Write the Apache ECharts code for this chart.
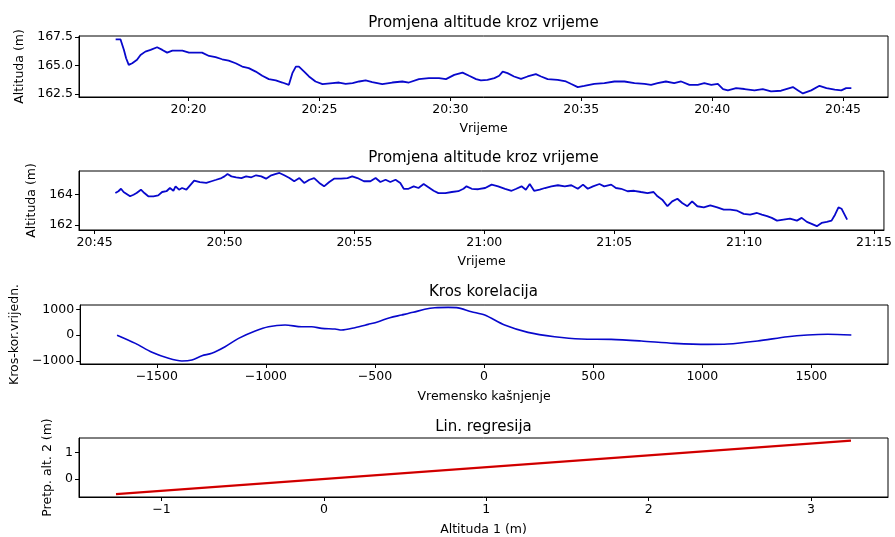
<!DOCTYPE html>
<html>
<head>
<meta charset="utf-8">
<script src="https://cdn.jsdelivr.net/npm/echarts@6/dist/echarts.min.js"></script>
<style>
html,body{margin:0;padding:0;background:#fff;}
#chart{width:895px;height:537px;}
</style>
</head>
<body>
<div id="chart"></div>
<script>
// ---------- DATA ----------
const titles = ['Promjena altitude kroz vrijeme', 'Promjena altitude kroz vrijeme', 'Kros korelacija', 'Lin. regresija'];

const times1 = ['20:17:13','20:17:24','20:17:32','20:17:37','20:17:43','20:17:51','20:18:02','20:18:10','20:18:21','20:18:33',
'20:18:48','20:19:00','20:19:11','20:19:23','20:19:46','20:20:01','20:20:16','20:20:31','20:20:47','20:21:02',
'20:21:17','20:21:32','20:21:48','20:22:03','20:22:18','20:22:34','20:22:49','20:23:04','20:23:20','20:23:35',
'20:23:50','20:23:58','20:24:06','20:24:13','20:24:25','20:24:36','20:24:51','20:25:07','20:25:30','20:25:45',
'20:26:00','20:26:16','20:26:31','20:26:46','20:27:01','20:27:24','20:27:47','20:28:10','20:28:25','20:28:48',
'20:29:11','20:29:34','20:29:50','20:30:09','20:30:28','20:30:43','20:30:59','20:31:10','20:31:25','20:31:41',
'20:31:52','20:32:00','20:32:11','20:32:26','20:32:42','20:32:57','20:33:16','20:33:28','20:33:43','20:34:06',
'20:34:25','20:34:36','20:34:52','20:35:07','20:35:30','20:35:53','20:36:16','20:36:39','20:37:02','20:37:25',
'20:37:40','20:37:55','20:38:14','20:38:33','20:38:49','20:39:08','20:39:27','20:39:42','20:39:58','20:40:13',
'20:40:25','20:40:36','20:40:55','20:41:14','20:41:37','20:41:56','20:42:15','20:42:38','20:43:05','20:43:17',
'20:43:28','20:43:47','20:44:06','20:44:22','20:44:41','20:44:56','20:45:07','20:45:19'];
const alt1 = [167.3,167.3,166.37,165.64,165.06,165.2,165.5,165.93,166.22,166.37,
166.6,166.37,166.13,166.3,166.3,166.13,166.13,166.13,165.84,165.73,
165.55,165.43,165.2,164.91,164.77,164.47,164.1,163.81,163.69,163.51,
163.31,164.33,164.91,164.91,164.47,164.04,163.6,163.37,163.46,163.51,
163.4,163.46,163.6,163.69,163.55,163.37,163.51,163.6,163.51,163.81,
163.9,163.9,163.81,164.18,164.38,164.1,163.81,163.69,163.75,163.9,
164.1,164.47,164.33,164.04,163.83,164.04,164.24,164.04,163.81,163.75,
163.6,163.4,163.11,163.22,163.4,163.46,163.6,163.6,163.46,163.4,
163.31,163.46,163.6,163.46,163.6,163.31,163.31,163.46,163.31,163.4,
162.94,162.82,163.02,162.94,162.82,162.94,162.73,162.79,163.11,162.82,
162.55,162.82,163.22,163.02,162.88,162.82,163.02,163.02];

const times2 = ['20:45:48','20:45:55','20:46:01','20:46:07','20:46:14','20:46:22','20:46:30','20:46:37','20:46:47','20:46:55',
'20:47:04','20:47:16','20:47:27','20:47:36','20:47:46','20:47:54','20:48:02','20:48:07','20:48:15','20:48:22',
'20:48:32','20:48:42','20:48:50','20:49:03','20:49:18','20:49:30','20:49:41','20:49:53','20:50:00','20:50:07',
'20:50:16','20:50:27','20:50:39','20:50:50','20:51:02','20:51:13','20:51:25','20:51:36','20:51:48','20:51:57',
'20:52:07','20:52:18','20:52:30','20:52:41','20:52:53','20:53:04','20:53:16','20:53:27','20:53:39','20:53:50',
'20:54:02','20:54:13','20:54:29','20:54:44','20:54:55','20:55:07','20:55:22','20:55:37','20:55:49','20:56:00',
'20:56:12','20:56:23','20:56:35','20:56:46','20:56:54','20:57:05','20:57:17','20:57:28','20:57:40','20:57:51',
'20:58:03','20:58:14','20:58:30','20:58:45','20:59:00','20:59:12','20:59:19','20:59:31','20:59:46','21:00:02',
'21:00:17','21:00:32','21:00:48','21:01:03','21:01:14','21:01:26','21:01:36','21:01:45','21:01:55','21:02:08',
'21:02:20','21:02:35','21:02:50','21:03:06','21:03:21','21:03:36','21:03:48','21:03:59','21:04:11','21:04:26',
'21:04:37','21:04:53','21:05:04','21:05:16','21:05:31','21:05:46','21:06:02','21:06:17','21:06:31','21:06:40',
'21:06:51','21:07:03','21:07:14','21:07:26','21:07:37','21:07:49','21:08:00','21:08:12','21:08:27','21:08:42',
'21:08:58','21:09:13','21:09:28','21:09:44','21:09:59','21:10:14','21:10:30','21:10:41','21:10:53','21:11:04',
'21:11:16','21:11:31','21:11:46','21:12:02','21:12:13','21:12:25','21:12:36','21:12:48','21:12:59','21:13:11',
'21:13:22','21:13:30','21:13:38','21:13:45','21:13:49','21:13:58'];
const alt2 = [164.08,164.2,164.36,164.15,164.02,163.87,163.97,164.08,164.3,164.08,
163.87,163.87,163.93,164.15,164.2,164.41,164.23,164.52,164.3,164.41,
164.3,164.63,164.89,164.8,164.74,164.85,164.95,165.06,165.17,165.32,
165.17,165.11,165.06,165.17,165.11,165.24,165.17,165.02,165.24,165.32,
165.39,165.24,165.06,164.85,165.06,164.74,164.95,165.06,164.74,164.52,
164.8,165.02,165.02,165.06,165.17,165.06,164.85,164.85,165.06,164.8,
164.95,164.8,164.95,164.74,164.36,164.36,164.52,164.41,164.67,164.46,
164.23,164.08,164.08,164.15,164.2,164.36,164.52,164.36,164.33,164.41,
164.63,164.52,164.36,164.23,164.36,164.52,164.3,164.67,164.23,164.3,
164.41,164.52,164.59,164.52,164.59,164.36,164.63,164.36,164.52,164.67,
164.52,164.63,164.41,164.36,164.2,164.23,164.15,164.08,164.15,163.87,
163.65,163.22,163.54,163.71,163.43,163.22,163.54,163.22,163.15,163.28,
163.15,163.0,163.0,162.93,162.72,162.67,162.78,162.67,162.57,162.46,
162.28,162.35,162.41,162.28,162.46,162.2,162.07,161.92,162.13,162.2,
162.28,162.67,163.15,163.06,163.11,162.35];

const lags = [-1682,-1598,-1522,-1446,-1385,-1339,-1293,-1248,-1187,-1125,-1049,-988,-912,-836,-790,-744,-683,-653,-592,-531,
-485,-432,-378,-325,-272,-226,-165,-127,-58,3,94,201,323,445,582,720,872,1025,1116,1253,1391,1482,1574,1683];
const xcorr = [0,-317,-665,-897,-1000,-961,-795,-703,-446,-124,160,326,392,326,326,262,236,198,288,417,
520,675,779,883,999,1060,1075,1065,908,779,392,108,-60,-149,-162,-226,-317,-356,-343,-226,-60,6,33,6];

const regAlt1 = [-1.28, 3.246];
const regPred2 = [-0.575, 1.445];

// axis ranges and tick labels
const timeRange1 = ['20:15:49', '20:46:43'];
const timeRange2 = ['20:44:24', '21:15:23'];
const timeTicks1 = ['20:20','20:25','20:30','20:35','20:40','20:45'];
const timeTicks2 = ['20:45','20:50','20:55','21:00','21:05','21:10','21:15'];
const altTicks1 = [162.5, 165.0, 167.5];
const altTicks2 = [162, 164];
const lagTicks = [-1500,-1000,-500,0,500,1000,1500];
const corrTicks = [-1000, 0, 1000];
const regXTicks = [-1, 0, 1, 2, 3];
const regYTicks = [0, 1];

// ---------- CHART ----------
const FONT = 'DejaVu Sans';
const toSec = s => { const p = s.split(':').map(Number); return p[0]*3600 + p[1]*60 + (p[2]||0); };
const fmtTime = v => { const h = Math.floor(v/3600), m = Math.round((v - h*3600)/60); return String(h).padStart(2,'0') + ':' + String(m).padStart(2,'0'); };
const fmtNum = d => v => { const s = d != null ? Number(v).toFixed(d) : String(v); return s.replace('-', '\u2212'); };

const labelStyle = { fontFamily: FONT, fontSize: 12.5, color: '#000' };

function axis(idx, min, max, ticks, fmt, name, gap){
  return {
    gridIndex: idx, type: 'value', min, max,
    axisLine: { show: true, onZero: false, lineStyle: { color: '#000', width: 1 } },
    axisTick: { show: true, length: 4, lineStyle: { color: '#000', width: 1 }, customValues: ticks },
    axisLabel: Object.assign({ customValues: ticks, formatter: fmt, margin: 6, hideOverlap: false }, labelStyle),
    splitLine: { show: false },
    name, nameLocation: 'middle', nameGap: gap, nameTextStyle: labelStyle
  };
}

const t1 = times1.map(toSec), t2 = times2.map(toSec);
const gridBase = { left: 79, width: 809, show: true, borderColor: '#000', borderWidth: 1, backgroundColor: 'transparent' };
const blue = '#0808cc';

const option = {
  animation: false,
  backgroundColor: '#fff',
  grid: [
    Object.assign({ top: 36, height: 61 }, gridBase),
    Object.assign({ top: 171, height: 59 }, gridBase),
    Object.assign({ top: 305, height: 59 }, gridBase),
    Object.assign({ top: 438, height: 61 }, gridBase)
  ],
  graphic: titles.map((t, i) => ({
    type: 'text', x: 483.5, y: [23.5, 158.3, 292, 426.7][i],
    style: { text: t, fontFamily: FONT, fontSize: 15, fill: '#000', align: 'center', verticalAlign: 'middle' }
  })),
  xAxis: [
    axis(0, toSec(timeRange1[0]), toSec(timeRange1[1]), timeTicks1.map(toSec), fmtTime, 'Vrijeme', 25),
    axis(1, toSec(timeRange2[0]), toSec(timeRange2[1]), timeTicks2.map(toSec), fmtTime, 'Vrijeme', 25),
    axis(2, -1851, 1851, lagTicks, fmtNum(null), 'Vremensko kašnjenje', 26),
    axis(3, -1.508, 3.474, regXTicks, fmtNum(null), 'Altituda 1 (m)', 26)
  ],
  yAxis: [
    axis(0, 162.24, 167.59, altTicks1, fmtNum(1), 'Altituda (m)', 46),
    axis(1, 161.67, 165.52, altTicks2, fmtNum(null), 'Altituda (m)', 36),
    axis(2, -1116, 1167, corrTicks, fmtNum(null), 'Kros-kor.vrijedn.', 58),
    axis(3, -0.68, 1.547, regYTicks, fmtNum(null), 'Pretp. alt. 2 (m)', 23)
  ],
  series: [
    { type: 'line', xAxisIndex: 0, yAxisIndex: 0, data: t1.map((t, i) => [t, alt1[i]]), showSymbol: false, lineStyle: { color: blue, width: 1.8 }, silent: true },
    { type: 'line', xAxisIndex: 1, yAxisIndex: 1, data: t2.map((t, i) => [t, alt2[i]]), showSymbol: false, lineStyle: { color: blue, width: 1.8 }, silent: true },
    { type: 'line', xAxisIndex: 2, yAxisIndex: 2, data: lags.map((l, i) => [l, xcorr[i]]), showSymbol: false, smooth: 0.3, lineStyle: { color: blue, width: 1.6 }, silent: true },
    { type: 'line', xAxisIndex: 3, yAxisIndex: 3, data: regAlt1.map((x, i) => [x, regPred2[i]]), showSymbol: false, lineStyle: { color: '#e80000', width: 2.2 }, silent: true },
    { type: 'line', xAxisIndex: 3, yAxisIndex: 3, data: regAlt1.map((x, i) => [x, regPred2[i]]), showSymbol: false, lineStyle: { color: '#400000', width: 0.6, opacity: 0.45 }, silent: true }
  ]
};

const chart = echarts.init(document.getElementById('chart'), null, { renderer: 'canvas' });
chart.setOption(option);
</script>
</body>
</html>
